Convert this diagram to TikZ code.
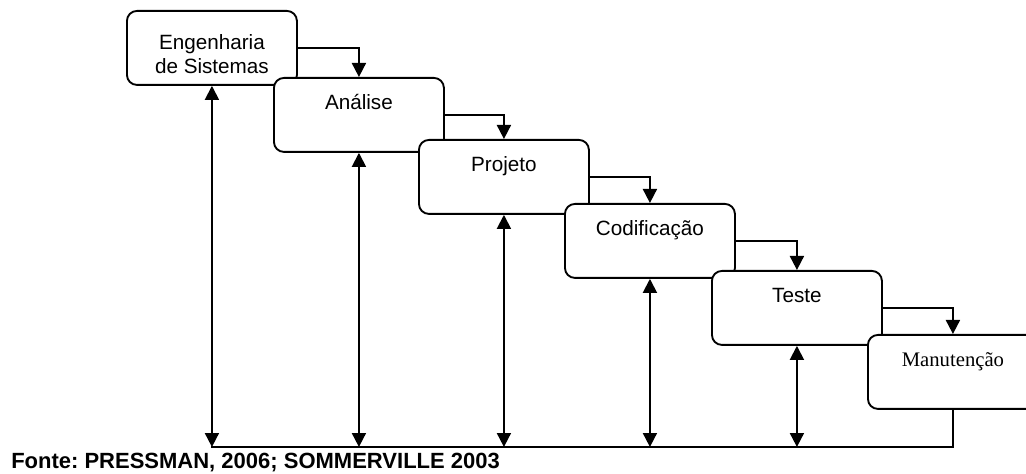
\documentclass[tikz,border=0pt]{standalone}
\usepackage{fontspec}
\setmainfont{Liberation Sans}
\newfontfamily\serifface{Liberation Serif}
\usetikzlibrary{arrows.meta}
\frenchspacing
\begin{document}
\begin{tikzpicture}[x=0.75pt,y=-0.75pt,
  stage/.style={draw, line width=1.4pt, fill=white, rounded corners=7.5pt,
    minimum width=127.5pt, minimum height=55.5pt, inner sep=0pt, anchor=north west},
  lbl/.style={font=\fontsize{15.5pt}{17.5pt}\selectfont, inner sep=0pt, align=center},
  flow/.style={line width=1.4pt, -{Triangle[length=10.5pt,width=10.5pt]}},
  both/.style={line width=1.4pt, {Triangle[length=10.5pt,width=10.5pt]}-{Triangle[length=10.5pt,width=10.5pt]}},
  plain/.style={line width=1.4pt}]
\useasboundingbox (0,0) rectangle (1026,474);
\clip (0,0) rectangle (1026,474);
% stages
\node[stage] (e) at (126,10) {};
\node[stage] (a) at (273,77) {};
\node[stage] (p) at (418,139) {};
\node[stage] (c) at (564,203) {};
\node[stage] (t) at (711,270) {};
\node[stage] (m) at (867,334) {};
% labels
\node[lbl, anchor=north] (et) at ([yshift=-18.5pt]e.north) {Engenharia\\de Sistemas};
\node[lbl, anchor=base] (at) at ([yshift=-24.75pt]a.north) {Análise};
\node[lbl, anchor=base] (pt) at ([yshift=-24.75pt]p.north) {Projeto};
\node[lbl, anchor=base] (ct) at ([yshift=-24.75pt]c.north) {Codificação};
\node[lbl, anchor=base] (tt) at ([yshift=-24.75pt]t.north) {Teste};
\node[lbl, anchor=base, font=\serifface\fontsize{15.5pt}{17.5pt}\selectfont] (mt) at ([yshift=-24.75pt]m.north) {Manutenção};
% flow connectors
\draw[flow] (e.east) -| (a.north);
\draw[flow] (a.east) -| (p.north);
\draw[flow] (p.east) -| (c.north);
\draw[flow] (c.east) -| (t.north);
\draw[flow] (t.east) -| (m.north);
% feedback base line
\coordinate (bl) at (211,447);
\draw[plain] (m.south) |- (bl);
\draw[both] (e.south) -- (e.south |- bl);
\draw[both] (a.south) -- (a.south |- bl);
\draw[both] (p.south) -- (p.south |- bl);
\draw[both] (c.south) -- (c.south |- bl);
\draw[both] (t.south) -- (t.south |- bl);
% source
\node[anchor=base west, inner sep=0pt, font=\bfseries\fontsize{16.5pt}{18pt}\selectfont] (src) at (11,468) {Fonte: PRESSMAN, 2006; SOMMERVILLE 2003};
\end{tikzpicture}
\end{document}
